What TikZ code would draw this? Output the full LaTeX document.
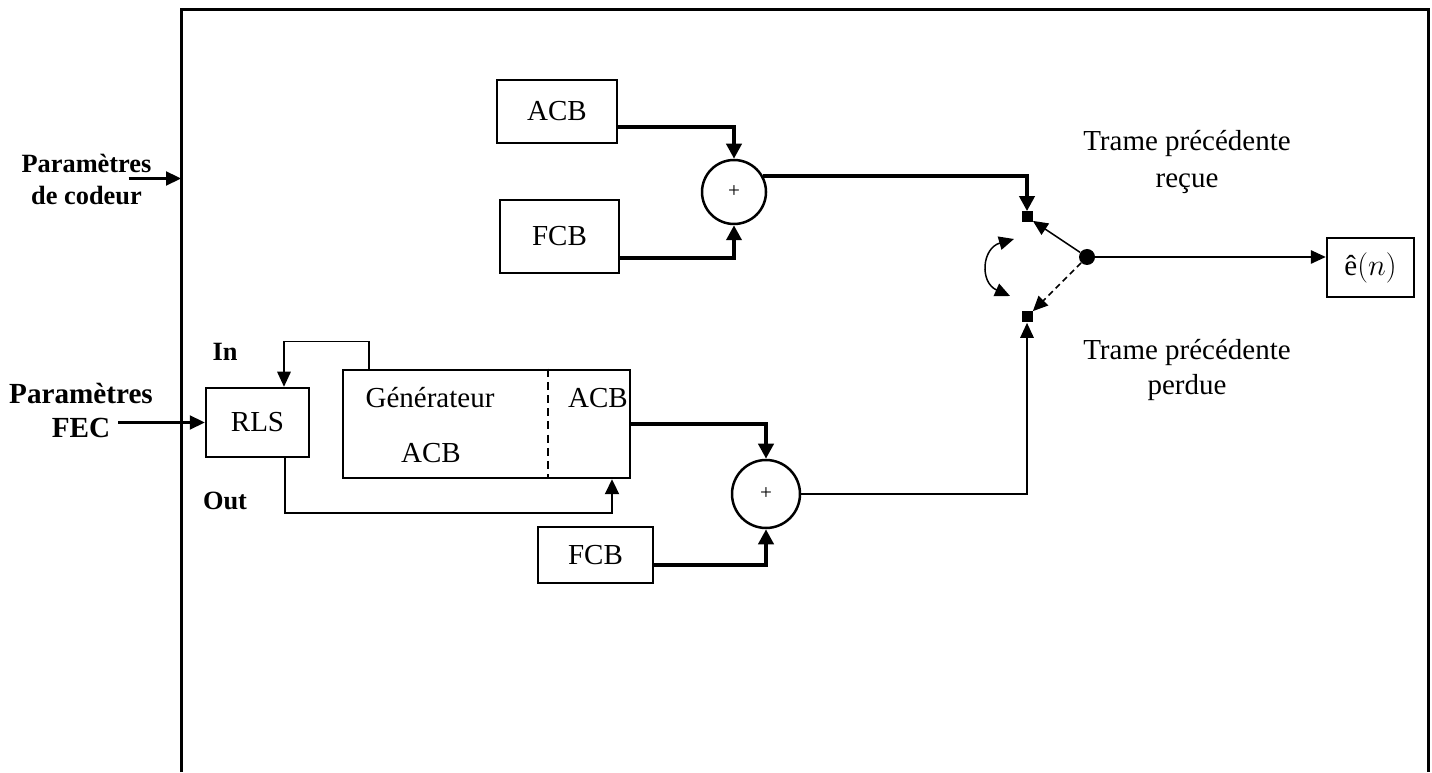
\documentclass[tikz,border=0pt]{standalone}
\usepackage{fontspec}
\setmainfont{Liberation Serif}
\usepackage{amsmath}
\usetikzlibrary{calc}
\usetikzlibrary{arrows.meta}
\tikzset{%
  block/.style={draw, line width=0.05cm, inner sep=0pt},%
  adder/.style={draw, circle, line width=0.05cm, inner sep=0pt, font=\fontsize{12}{14}\selectfont},%
  contact/.style={fill, inner sep=0pt, minimum size=0.22cm},%
  pivot/.style={fill, circle, inner sep=0pt, minimum size=0.32cm},%
  heavyarrow/.style={line width=0.08cm, -{Triangle[length=0.30cm,width=0.30cm]}},%
  midarrow/.style={line width=0.045cm, -{Triangle[length=0.30cm,width=0.28cm]}},%
  thinarrow/.style={line width=0.03cm, -{Triangle[length=0.30cm,width=0.27cm]}},%
  twoway/.style={line width=0.03cm, {Triangle[length=0.30cm,width=0.27cm]}-{Triangle[length=0.30cm,width=0.27cm]}},%
  txt/.style={align=center, inner sep=0pt},%
  boldtxt/.style={font=\fontsize{15}{18.5}\selectfont\bfseries, align=center, inner sep=0pt},%
}

\begin{document}
\begin{tikzpicture}
            \useasboundingbox (0,0) rectangle (28.64,15.44);%
            {\fontsize{16.5}{21}\selectfont

            % Drawing outer frame
            \draw [line width=0.06cm] (3.62,0) -- (3.62,15.24) -- (28.56,15.24) -- (28.56,0);%

            % Marking upper branch ACB, FCB and adder
            \node (acbtop) [block, minimum width=2.40cm, minimum height=1.26cm] at (11.14,13.21) {ACB};%
            \node (fcbtop) [block, minimum width=2.38cm, minimum height=1.46cm] at (11.19,10.71) {FCB};%
            \node (sumtop) [adder, minimum size=1.28cm] at (14.68,11.60) {+};%

            % Marking switch contacts and pivot
            \node (sqtop) [contact] at (20.54,11.10) {};%
            \node (sqbot) [contact] at (20.54,9.10) {};%
            \node (hub) [pivot] at (21.74,10.30) {};%
            \coordinate (swa) at (20.28,10.66);%
            \coordinate (swb) at (20.20,9.52);%

            % Marking output block
            \node (ehat) [block, minimum width=1.74cm, minimum height=1.18cm] at (27.41,10.09) {ê$(n)$};%

            % Marking lower branch RLS, generator, FCB and adder
            \node (rls) [block, minimum width=2.06cm, minimum height=1.38cm] at (5.15,6.99) {RLS};%
            \node (gen) [block, minimum width=5.74cm, minimum height=2.16cm] at (9.73,6.96) {};%
            \node (genname) [txt] at (8.60,7.48) {Générateur};%
            \node (genacb) [txt] at (8.62,6.38) {ACB};%
            \node (genout) [txt] at (11.96,7.48) {ACB};%
            \node (sumbot) [adder, minimum size=1.36cm] at (15.32,5.56) {+};%
            \node (fcbbot) [block, minimum width=2.30cm, minimum height=1.12cm] at (11.91,4.34) {FCB};%

            % Marking texts
            \node (codeur) [boldtxt] at (1.73,11.85) {Paramètres\\de codeur};%
            \node (fec) [boldtxt, font=\fontsize{16.6}{19.8}\selectfont\bfseries] at (1.62,7.23) {Paramètres\\FEC};%
            \node (inlbl) [boldtxt] at (4.50,8.40) {In};%
            \node (outlbl) [boldtxt] at (4.50,5.42) {Out};%
            \node (recue) [txt, font=\fontsize{16.5}{21.5}\selectfont] at (23.74,12.20) {Trame précédente\\reçue};%
            \node (perdue) [txt, font=\fontsize{16.5}{20.4}\selectfont] at (23.74,8.04) {Trame précédente\\perdue};%
            \coordinate (codsrc) at (2.57,11.87);%
            \coordinate (codin) at (3.62,11.87);%
            \coordinate (fecsrc) at (2.36,6.99);%

            % Drawing dashed divider of generator
            \draw [line width=0.04cm, dash pattern=on 4.5pt off 3pt] ($(gen.north)+(1.23,0)$) -- ($(gen.south)+(1.23,0)$);%

            % Drawing upper branch connectors
            \draw [heavyarrow] ($(acbtop.east)+(0,-0.31)$) -| (sumtop.north);%
            \draw [heavyarrow] ($(fcbtop.east)+(0,-0.43)$) -| (sumtop.south);%
            \draw [heavyarrow] (sumtop.28) -| (sqtop.north);%

            % Drawing switch
            \draw [thinarrow] (hub) -- (sqtop);%
            \draw [thinarrow, dash pattern=on 3.4pt off 2.3pt] (hub) -- (sqbot);%
            \draw [twoway] (swa) to [bend right=70, looseness=1.5] (swb);%
            \draw [thinarrow] (hub) -- (hub -| ehat.west);%

            % Drawing lower branch connectors
            \draw [heavyarrow] (gen.east) -| (sumbot.north);%
            \draw [heavyarrow] ($(fcbbot.east)+(0,-0.20)$) -| (sumbot.south);%
            \draw [thinarrow] (sumbot.east) -| (sqbot.south);%
            \draw [thinarrow] ($(gen.north)+(-2.35,0)$) -- ++(0,0.54) -| ($(rls.north)+(0.53,0)$);%
            \draw [midarrow] ($(rls.south)+(0.55,0)$) -- ++(0,-1.10) -| ($(gen.south)+(2.51,0)$);%

            % Drawing inputs
            \draw [midarrow] (fecsrc) -- (rls.west);%
            \draw [midarrow] (codsrc) -- (codin);%
            }
        \end{tikzpicture}
\end{document}
